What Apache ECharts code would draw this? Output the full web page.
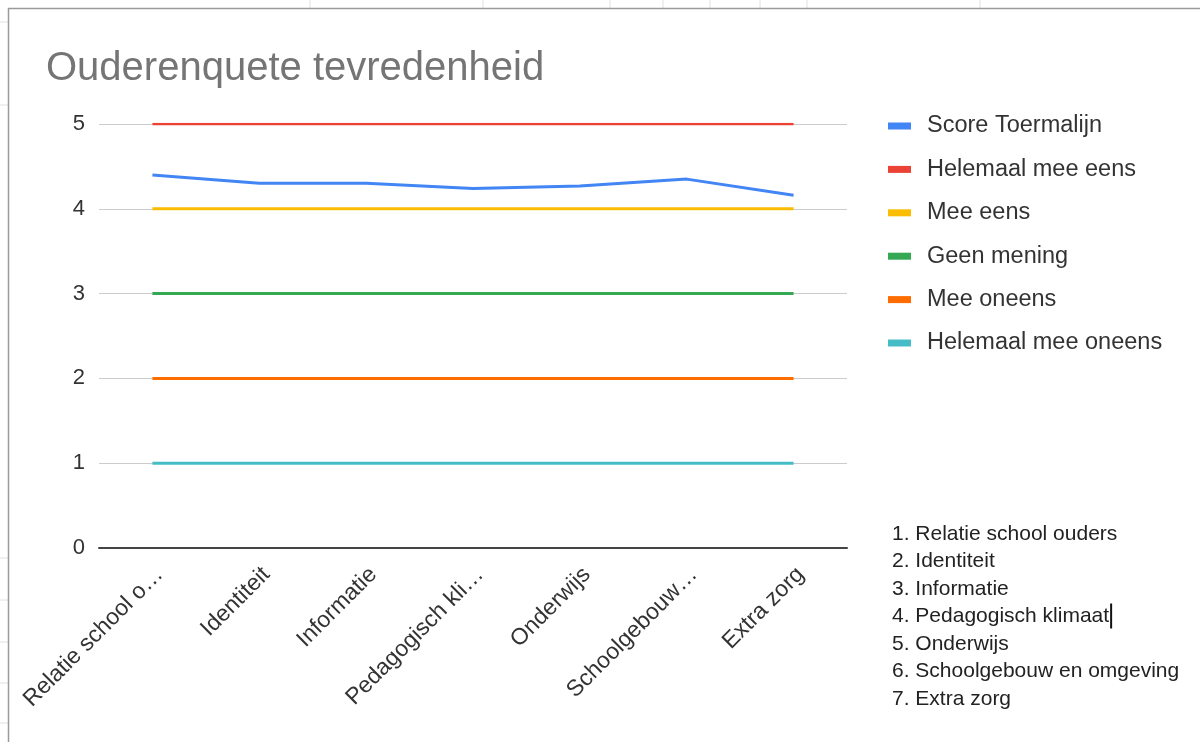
<!DOCTYPE html>
<html>
<head>
<meta charset="utf-8">
<script src="https://cdn.jsdelivr.net/npm/echarts@6/dist/echarts.min.js"></script>
<style>
html,body{margin:0;padding:0;background:#fff;}
#chart{width:1200px;height:742px;}
</style>
</head>
<body>
<div id="chart"></div>
<script>
// ---- data ----
const categories = ['Relatie school ouders','Identiteit','Informatie','Pedagogisch klimaat','Onderwijs','Schoolgebouw en omgeving','Extra zorg'];
const tickLabels = ['Relatie school o\u2026','Identiteit','Informatie','Pedagogisch kli\u2026','Onderwijs','Schoolgebouw\u2026','Extra zorg'];
const seriesNames = ['Score Toermalijn','Helemaal mee eens','Mee eens','Geen mening','Mee oneens','Helemaal mee oneens'];
const scoreToermalijn = [4.40, 4.30, 4.30, 4.24, 4.27, 4.35, 4.16];
const helemaalMeeEens = [5, 5, 5, 5, 5, 5, 5];
const meeEens = [4, 4, 4, 4, 4, 4, 4];
const geenMening = [3, 3, 3, 3, 3, 3, 3];
const meeOneens = [2, 2, 2, 2, 2, 2, 2];
const helemaalMeeOneens = [1, 1, 1, 1, 1, 1, 1];
const yTicks = [0, 1, 2, 3, 4, 5];

const colors = ['#4285f4','#ea4335','#fbbc04','#34a853','#ff6d01','#46bdc6'];
const widths = [3, 2.5, 3, 3, 3, 3];
const allData = [scoreToermalijn, helemaalMeeEens, meeEens, geenMening, meeOneens, helemaalMeeOneens];
const FONT = '"Liberation Sans", Arial, sans-serif';

const chart = echarts.init(document.getElementById('chart'), null, {renderer:'canvas'});

// numbered list text + position of the text cursor after item 4
const LIST_FONT = '21px ' + FONT;
const listLines = categories.map((c, i) => (i+1) + '. ' + c);
const LIST_X = 892, LIST_TOP = 520, LIST_LH = 27.5;
const mctx = document.createElement('canvas').getContext('2d');
mctx.font = LIST_FONT;
const cursorX = LIST_X + mctx.measureText(listLines[3]).width + 1;

const sheetLines = [];
[310, 483, 610, 663, 710, 760, 807, 980].forEach(x => sheetLines.push({type:'line', shape:{x1:x,y1:0,x2:x,y2:8}, style:{stroke:'#e0e0e0', lineWidth:1}, silent:true}));
[22, 105, 558, 600, 642, 683, 723].forEach(y => sheetLines.push({type:'line', shape:{x1:0,y1:y,x2:8,y2:y}, style:{stroke:'#e0e0e0', lineWidth:1}, silent:true}));

chart.setOption({
  animation: false,
  color: colors,
  title: {
    text: 'Ouderenquete tevredenheid',
    left: 41, top: 44,
    textStyle: {fontFamily: FONT, fontSize: 40, fontWeight: 'normal', color: '#757575'}
  },
  legend: {
    orient: 'vertical',
    left: 883, top: 108,
    icon: 'rect',
    itemWidth: 23, itemHeight: 7,
    itemGap: 17.4,
    data: seriesNames,
    textStyle: {fontFamily: FONT, fontSize: 23.5, color: '#333', lineHeight: 26, padding: [0,0,0,11]}
  },
  grid: {left: 99, right: 353, top: 124, bottom: 194, containLabel: false},
  xAxis: {
    type: 'category',
    data: categories,
    boundaryGap: true,
    axisLine: {lineStyle: {color: '#444', width: 2}},
    axisTick: {show: false},
    axisLabel: {
      rotate: 45, margin: 4, interval: 0,
      verticalAlign: 'top', lineHeight: 37, padding: [0, 8.5, 0, 0],
      fontFamily: FONT, fontSize: 23, color: '#333',
      formatter: (v, i) => tickLabels[i]
    }
  },
  yAxis: {
    type: 'value',
    min: yTicks[0], max: yTicks[yTicks.length-1], interval: 1,
    axisLine: {show: false},
    axisTick: {show: false},
    axisLabel: {fontFamily: FONT, fontSize: 22, color: '#333', margin: 14},
    splitLine: {lineStyle: {color: '#cccccc', width: 1}}
  },
  series: seriesNames.map((n, i) => ({
    name: n, type: 'line', data: allData[i],
    showSymbol: false, symbol: 'none',
    lineStyle: {width: widths[i], color: colors[i]},
    itemStyle: {color: colors[i]},
    z: 10 - i
  })),
  graphic: sheetLines.concat([
    {type:'line', shape:{x1:8,y1:8.5,x2:1200,y2:8.5}, style:{stroke:'#9a9a9a', lineWidth:1.5}, silent:true},
    {type:'line', shape:{x1:8.5,y1:8,x2:8.5,y2:742}, style:{stroke:'#9a9a9a', lineWidth:1.5}, silent:true},
    {type:'text', left: LIST_X, top: LIST_TOP,
      style: {text: listLines.join('\n'), font: LIST_FONT, fill: '#222', lineHeight: LIST_LH}},
    {type:'rect', shape:{x: cursorX, y: LIST_TOP + 3*LIST_LH + 1, width: 2, height: 25}, style:{fill:'#111'}, silent:true}
  ])
});
</script>
</body>
</html>
